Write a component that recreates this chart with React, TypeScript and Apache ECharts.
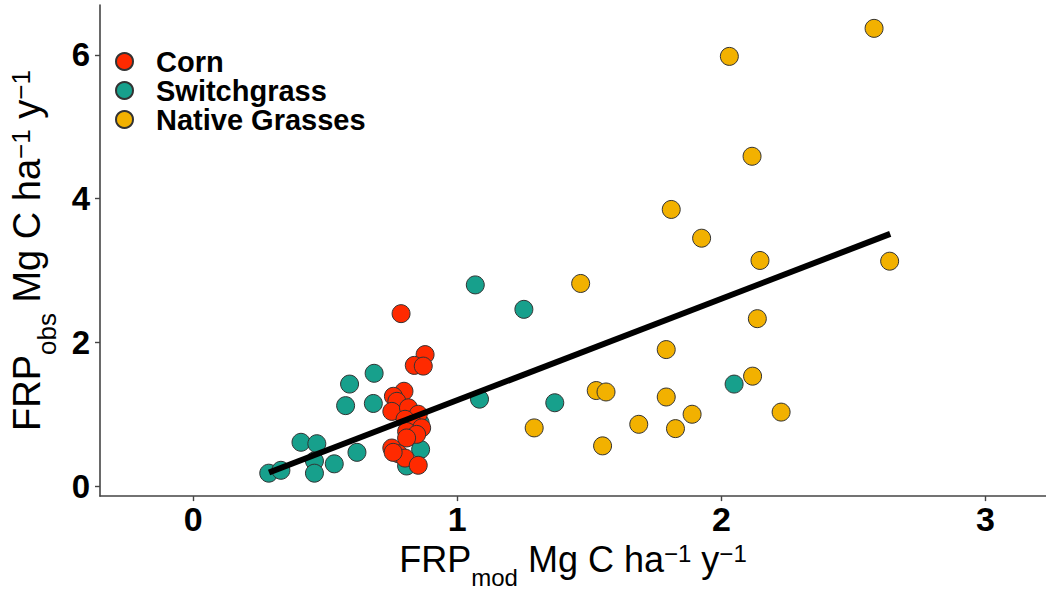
import React, { useEffect, useRef } from "react";
import * as echarts from "echarts";

const seriesNames = ["Corn", "Switchgrass", "Native Grasses"];
const seriesColors = ["#FF2A00", "#17A08C", "#F2B100"];

const cornPoints: number[][] = [
  [0.787, 2.4], [0.878, 1.83], [0.837, 1.68], [0.871, 1.67], [0.798, 1.32],
  [0.758, 1.25], [0.771, 1.18], [0.752, 1.04], [0.815, 1.09], [0.852, 1.0],
  [0.802, 0.93], [0.833, 0.86], [0.865, 0.81], [0.808, 0.76], [0.846, 0.72],
  [0.808, 0.67], [0.752, 0.53], [0.777, 0.45], [0.802, 0.39], [0.852, 0.29],
  [0.757, 0.47],
];

const switchgrassPoints: number[][] = [
  [0.286, 0.18], [0.332, 0.22], [0.408, 0.61], [0.468, 0.59], [0.459, 0.35],
  [0.459, 0.18], [0.534, 0.31], [0.62, 0.47], [0.577, 1.12], [0.592, 1.42],
  [0.685, 1.57], [0.682, 1.15], [0.861, 0.51], [0.808, 0.28], [0.859, 0.88],
  [1.068, 2.8], [1.252, 2.46], [1.084, 1.21], [1.369, 1.16], [2.048, 1.42],
];

const nativePoints: number[][] = [
  [2.578, 6.37], [2.03, 5.98], [2.116, 4.59], [1.81, 3.85], [1.925, 3.45],
  [2.146, 3.14], [2.637, 3.13], [1.467, 2.82], [2.136, 2.33], [1.791, 1.9],
  [2.118, 1.53], [1.526, 1.33], [1.563, 1.31], [1.791, 1.24], [1.889, 1.0],
  [2.226, 1.03], [1.291, 0.81], [1.687, 0.86], [1.826, 0.8], [1.55, 0.56],
];

const fitLine: number[][] = [
  [0.287, 0.19],
  [2.639, 3.51],
];

const xTicks = [0, 1, 2, 3];
const yTicks = [0, 2, 4, 6];

const FONT = "'Liberation Sans', Arial, Helvetica, sans-serif";

function titleRich(size: number) {
  const small = Math.round(size * 0.68);
  return {
    a: { fontSize: size, lineHeight: 40, verticalAlign: "top", fontFamily: FONT, color: "#000" },
    sub: { fontSize: small, verticalAlign: "top", padding: [Math.round(size * 0.68), 0, 0, 0], fontFamily: FONT, color: "#000" },
    sup: { fontSize: small, verticalAlign: "top", fontFamily: FONT, color: "#000" },
  };
}

export default function App() {
  const ref = useRef<HTMLDivElement>(null);
  useEffect(() => {
    if (!ref.current) return;
    const chart = echarts.init(ref.current, null, { renderer: "svg" });
    const pointStyle = (i: number) => ({
      color: seriesColors[i],
      borderColor: "#333",
      borderWidth: 1,
      opacity: 1,
    });
    chart.setOption({
      animation: false,
      backgroundColor: "#fff",
      grid: { left: 99, right: 0, top: 5, bottom: 97, containLabel: false },
      legend: {
        orient: "vertical",
        left: 110,
        top: 42,
        padding: 5,
        itemWidth: 17,
        itemHeight: 17,
        itemGap: 0,
        icon: "circle",
        data: seriesNames,
        textStyle: {
          fontFamily: FONT,
          fontWeight: "bold",
          fontSize: 29,
          lineHeight: 27,
          color: "#000",
          padding: [0, 0, 0, 18],
        },
        selectedMode: false,
      },
      xAxis: {
        type: "value",
        min: -0.353,
        max: 3.229,
        splitLine: { show: false },
        axisLine: { show: true, onZero: false, lineStyle: { color: "#444", width: 1.6 } },
        axisTick: { show: true, length: 5, lineStyle: { color: "#444", width: 1.4 }, customValues: xTicks },
        axisLabel: {
          customValues: xTicks,
          fontFamily: FONT,
          fontWeight: "bold",
          fontSize: 34,
          color: "#000",
          margin: 6,
        },
        name: "{a|FRP}{sub|mod}{a| Mg C ha}{sup|−1}{a| y}{sup|−1}",
        nameLocation: "middle",
        nameGap: 43,
        nameTextStyle: { rich: titleRich(36) },
      },
      yAxis: {
        type: "value",
        min: -0.139,
        max: 6.695,
        splitLine: { show: false },
        axisLine: { show: true, onZero: false, lineStyle: { color: "#444", width: 1.6 } },
        axisTick: { show: true, length: 5, lineStyle: { color: "#444", width: 1.4 }, customValues: yTicks },
        axisLabel: {
          customValues: yTicks,
          fontFamily: FONT,
          fontWeight: "bold",
          fontSize: 33,
          color: "#000",
          margin: 10,
        },
        name: "{a|FRP}{sub|obs}{a| Mg C ha}{sup|−1}{a| y}{sup|−1}",
        nameLocation: "middle",
        nameRotate: 90,
        nameGap: 40,
        nameTextStyle: { rich: titleRich(38) },
      },
      series: [
        {
          name: "Switchgrass",
          type: "scatter",
          data: switchgrassPoints,
          symbolSize: 18,
          itemStyle: pointStyle(1),
          z: 2,
        },
        {
          name: "Corn",
          type: "scatter",
          data: cornPoints,
          symbolSize: 18,
          itemStyle: pointStyle(0),
          z: 3,
        },
        {
          name: "Native Grasses",
          type: "scatter",
          data: nativePoints,
          symbolSize: 18,
          itemStyle: pointStyle(2),
          z: 4,
        },
        {
          name: "fit",
          type: "line",
          data: fitLine,
          symbol: "none",
          lineStyle: { color: "#000", width: 6 },
          z: 5,
          silent: true,
        },
      ],
    });
    return () => chart.dispose();
  }, []);
  return (
    <div
      ref={ref}
      style={{ position: "fixed", left: 0, top: 0, width: 1046, height: 594, background: "#fff" }}
    />
  );
}
